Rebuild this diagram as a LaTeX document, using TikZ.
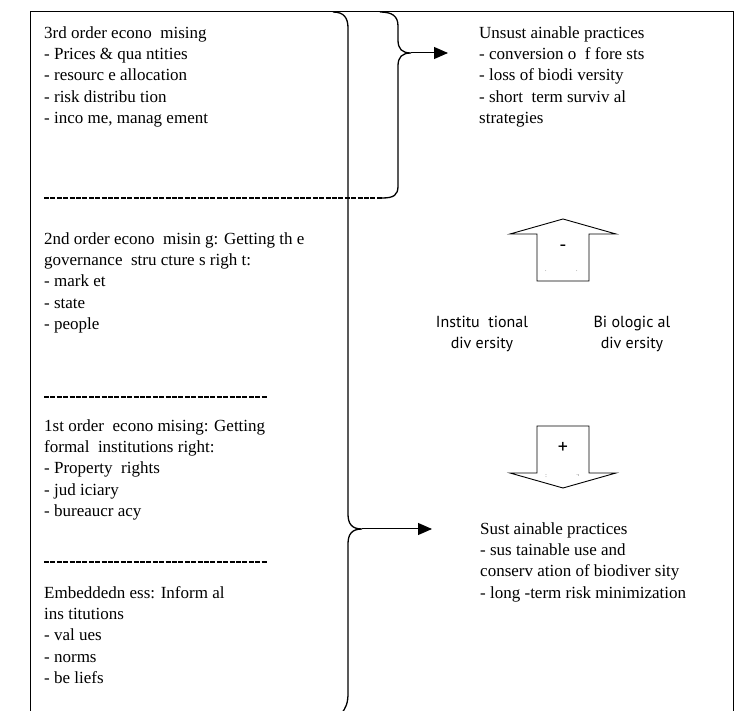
\documentclass[tikz,border=0pt]{standalone}
\usepackage{fontspec}
\setmainfont{Liberation Serif}
\newfontfamily\labelfont{PT Sans}
\usetikzlibrary{arrows.meta}
\def\textsize{\fontsize{17}{21.3}\selectfont}
\def\labelsize{\labelfont\fontsize{16}{21}\selectfont}

\tikzset{
  frame/.style={line width=1pt},
  brace/.style={line width=1.3pt},
  separator/.style={line width=2.6pt, dash pattern=on 5pt off 1.4pt},
  link/.style={line width=1pt, -{Triangle[length=14pt,width=12pt]}},
  blockarrow/.style={line width=0.9pt, line join=miter},
  txt/.style={anchor=north west, inner sep=0pt, align=left, font=\textsize},
  divtxt/.style={anchor=center, inner sep=0pt, align=center, font=\labelsize},
  sign/.style={inner sep=0pt, font=\labelfont\fontsize{20}{20}\selectfont},
  speck/.style={inner sep=0pt, font=\labelfont\fontsize{5}{5}\selectfont}
}

\begin{document}
\begin{tikzpicture}[x=1pt, y=-1pt]
\useasboundingbox (0,0) rectangle (740,711);
% outer frame
\draw[frame] (30,711) -- (30,12) -- (733,12) -- (733,711);

% LEFT COLUMN (first baseline = top + strut height)
\node[txt] (third) at (44,23.1) {\strut 3rd order econo \ mising\\- Prices \& qua ntities\\- resourc e allocation\\- risk distribu tion\\- inco me, manag ement};
\node[txt] (second) at (44,229.1) {\strut 2nd order econo \ misin g: Getting th e\\governance \ stru cture s righ t:\\- mark et\\- state\\- people};
\node[txt] (first) at (44,416.1) {\strut 1st order \ econo mising: Getting\\formal \ institutions right:\\- Property \ rights\\- jud iciary\\- bureaucr acy};
\node[txt] (embed) at (44,583.1) {\strut Embeddedn ess: Inform al\\ins titutions\\- val ues\\- norms\\- be liefs};
% separators
\draw[separator] (44,198) -- (382,198);
\draw[separator] (44,397) -- (267,397);
\draw[separator] (44,562) -- (267,562);

% braces
\coordinate (tipU) at (411,53);
\coordinate (tipL) at (362,529);
\draw[brace] (380,12) .. controls (392,12) and (398,16) .. (398,26) -- (398,40)
  .. controls (398,49) and (402,53) .. (tipU)
  .. controls (402,53) and (398,57) .. (398,66) -- (398,186)
  .. controls (398,195) and (394,198) .. (382,198);
\draw[brace] (333,12) .. controls (344,12) and (348,18) .. (348,28) -- (348,514)
  .. controls (348,524) and (352,529) .. (tipL)
  .. controls (352,529) and (348,534) .. (348,544) -- (348,693)
  .. controls (348,703) and (346,708) .. (341,714);

% RIGHT COLUMN
\node[txt] (unsust) at (479,23.1) {\strut Unsust ainable practices\\- conversion o \ f fore sts\\- loss of biodi versity\\- short \ term surviv al\\strategies};
\node[txt] (sust) at (480,519.1) {\strut Sust ainable practices\\- sus tainable use and\\conserv ation of biodiver sity\\- long -term risk minimization};
\draw[link, shorten >=31pt] (tipU) -- (unsust.west |- tipU);
\draw[link, shorten >=48pt] (tipL) -- (sust.west |- tipL);

% diversity labels
\node[divtxt] (inst) at (482,334) {Institu \ tional\\div ersity};
\node[divtxt] (bio) at (632,334) {Bi ologic al\\div ersity};

% block arrows
\draw[blockarrow] (537,281) -- (537,234) -- (510,234) -- (563,219) -- (616,234) -- (589,234) -- (589,281) -- cycle;
\node[sign] (minus) at (563,248) {-};
\node[speck] (dotA) at (546,271) {.};
\node[speck] (dotB) at (577,271) {.};
\draw[blockarrow] (537,426) -- (589,426) -- (589,473) -- (616,473) -- (563,488) -- (510,473) -- (537,473) -- cycle;
\node[sign] (plus) at (563,448) {+};
\node[speck] (dotC) at (546,476) {:};
\node[speck] (dotD) at (578,476) {.,};
\end{tikzpicture}
\end{document}
